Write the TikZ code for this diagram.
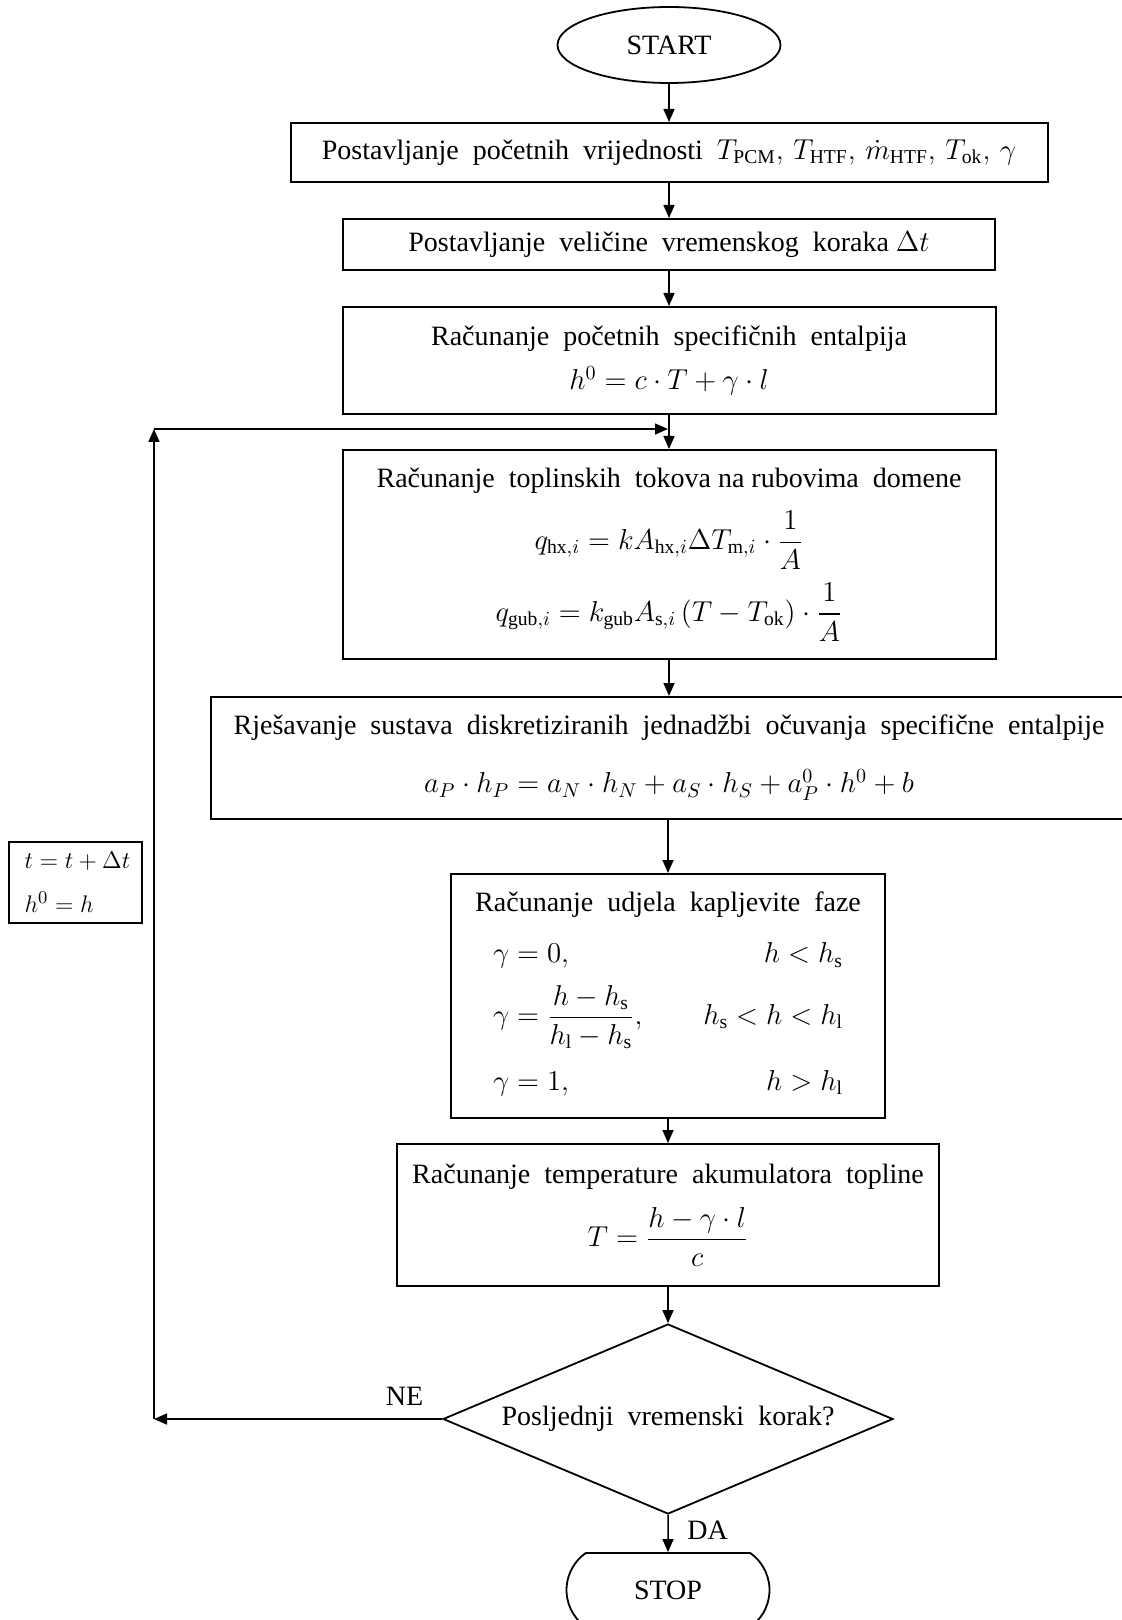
\documentclass[tikz,border=0pt]{standalone}
\usepackage{amsmath}
\usepackage{fontspec}
\setmainfont{Liberation Serif}
\usetikzlibrary{shapes.geometric,shapes.misc,arrows.meta}

\tikzset{
  box/.style={draw, rectangle, line width=1pt, align=center, inner sep=0pt},
  term/.style={draw, line width=0.9pt, inner sep=0pt},
  flow/.style={->, line width=0.75pt},
  >={Triangle[length=6.5pt,width=5.5pt]}
}

\begin{document}
\begin{tikzpicture}[x=0.5pt,y=-0.5pt,font=\fontsize{14}{17}\selectfont]
\useasboundingbox (0,0) rectangle (1121,1620);

% blocks
\node[term, ellipse, minimum width=111.5pt, minimum height=38pt] (start) at (669,45) {START};
\node[box, minimum width=378.5pt, minimum height=29.5pt] (init) at (669,152.5)
  {Postavljanje\ \ početnih\ \ vrijednosti\ \ $T_{\mathrm{PCM}},\,T_{\mathrm{HTF}},\,\dot{m}_{\mathrm{HTF}},\,T_{\mathrm{ok}},\,\gamma$};
\node[box, minimum width=326pt, minimum height=25.5pt] (tstep) at (669,244.5)
  {Postavljanje\ \ veličine\ \ vremenskog\ \ koraka $\Delta t$};
\node[box, minimum width=326.5pt, minimum height=53.5pt] (henth) at (669,360.5)
  {Računanje\ \ početnih\ \ specifičnih\ \ entalpija\\[5pt] $h^{0} = c\cdot T + \gamma\cdot l$};
\node[box, minimum width=326.5pt, minimum height=104.5pt] (flux) at (669,554.5)
  {Računanje\ \ toplinskih\ \ tokova na rubovima\ \ domene\\[8pt]
   $q_{\mathrm{hx},i} = kA_{\mathrm{hx},i}\Delta T_{\mathrm{m},i}\cdot\dfrac{1}{A}$\\[6pt]
   $q_{\mathrm{gub},i} = k_{\mathrm{gub}}A_{\mathrm{s},i}\left(T - T_{\mathrm{ok}}\right)\cdot\dfrac{1}{A}$};
\node[box, minimum width=458pt, minimum height=61pt] (solve) at (669,758)
  {Rješavanje\ \ sustava\ \ diskretiziranih\ \ jednadžbi\ \ očuvanja\ \ specifične\ \ entalpije\\[12pt]
   $a_{P}\cdot h_{P} = a_{N}\cdot h_{N} + a_{S}\cdot h_{S} + a^{0}_{P}{}\cdot h^{0} + b$};
\node[box, minimum width=217pt, minimum height=122pt] (liquid) at (668,996)
  {Računanje\ \ udjela\ \ kapljevite\ \ faze\\[10pt]
   \begin{tabular*}{175pt}{@{}l@{\extracolsep{\fill}}r@{}}
   $\gamma = 0,$ & $h < h_{\mathrm{s}}$\\[6pt]
   $\gamma = \dfrac{h - h_{\mathrm{s}}}{h_{\mathrm{l}} - h_{\mathrm{s}}},$ & $h_{\mathrm{s}} < h < h_{\mathrm{l}}$\\[16pt]
   $\gamma = 1,$ & $h > h_{\mathrm{l}}$
   \end{tabular*}};
\node[box, minimum width=271pt, minimum height=71pt] (temp) at (668,1215)
  {Računanje\ \ temperature\ \ akumulatora\ \ topline\\[8pt]
   $T = \dfrac{h - \gamma\cdot l}{c}$};
\node[term, diamond, shape aspect=2.37, minimum width=225pt, minimum height=95pt] (last) at (668,1419)
  {Posljednji\ \ vremenski\ \ korak?};
\node[term, rounded rectangle, rounded rectangle arc length=110, minimum width=101.5pt, minimum height=37pt] (stop) at (668,1590) {STOP};
\node[box, align=left, minimum width=66.5pt, minimum height=40.5pt, font=\fontsize{12.5}{15}\selectfont] (update) at (75.5,882.5)
  {\hspace*{2pt}$t = t + \Delta t$\\[7pt] \hspace*{2pt}$h^{0} = h$\hfill};

% main flow
\draw[flow] (start) -- (init);
\draw[flow] (init) -- (tstep);
\draw[flow] (tstep) -- (henth);
\draw[flow] (henth) -- (flux);
\draw[flow] (flux) -- (solve);
\draw[flow] (solve.south -| liquid.north) -- (liquid);
\draw[flow] (liquid) -- (temp);
\draw[flow] (temp) -- (last);
\draw[flow] (last) -- (stop) node[pos=0.4, right=6pt] (yes) {DA};

% loop back
\coordinate (corner) at (154,1419);
\coordinate (top) at (154,429);
\coordinate (join) at (668,429);
\draw[flow] (last.west) -- (corner) node[pos=0.13, above=3pt] (no) {NE};
\draw[flow] (corner) -- (top);
\draw[flow] (top) -- (join);
\end{tikzpicture}
\end{document}
